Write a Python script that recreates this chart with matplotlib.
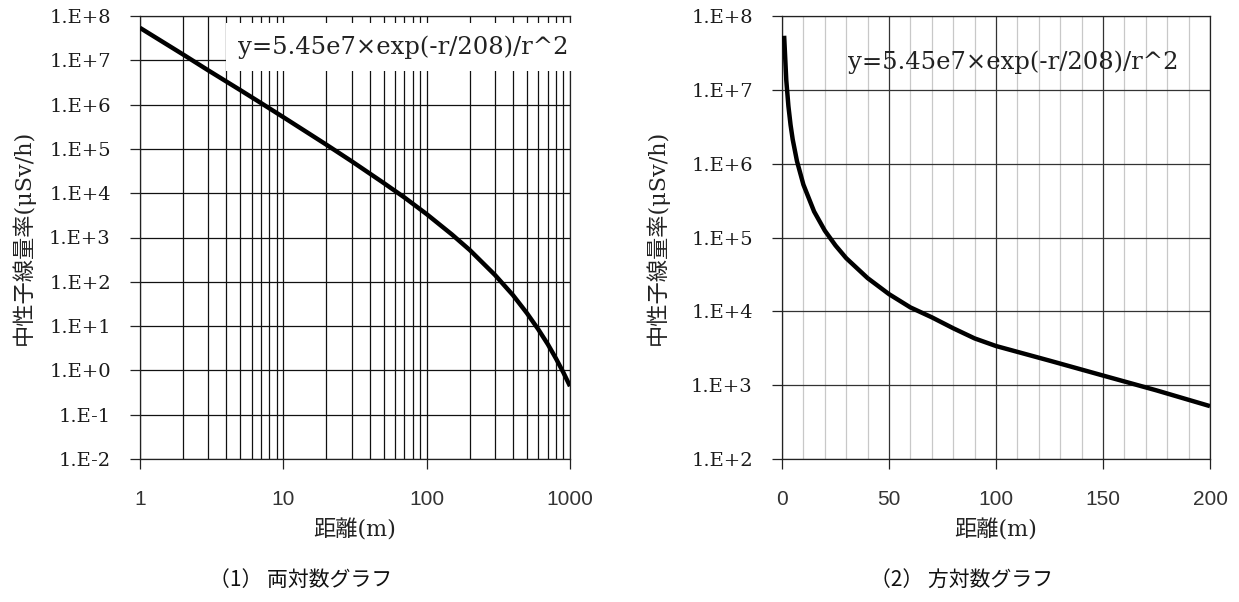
import math
import matplotlib
matplotlib.use("Agg")
import matplotlib.pyplot as plt
from matplotlib.ticker import FixedLocator, NullLocator, FuncFormatter, NullFormatter

# ---- data ----
r_loglog = [1, 2, 3, 5, 7, 10, 15, 20, 30, 50, 70, 100, 150, 200, 300, 400, 500, 600, 700, 800, 900, 1000]
dose_loglog = [5.4e7, 1.35e7, 5.9e6, 2.13e6, 1.08e6, 5.2e5, 2.25e5, 1.24e5, 5.25e4, 1.71e4, 8.0e3, 3.37e3,
               1.17e3, 520, 142, 50, 19.7, 8.5, 3.9, 1.83, 0.89, 0.44]

r_semilog = [1, 2, 3, 4, 5, 7, 10, 15, 20, 25, 30, 40, 50, 60, 70, 80, 90, 100, 125, 150, 175, 200]
dose_semilog = [5.4e7, 1.35e7, 6.0e6, 3.35e6, 2.13e6, 1.08e6, 5.2e5, 2.25e5, 1.24e5, 7.8e4, 5.25e4, 2.82e4,
                1.71e4, 1.13e4, 8.3e3, 5.9e3, 4.3e3, 3.39e3, 2.15e3, 1.35e3, 8.5e2, 5.2e2]

x_ticks_log = [1, 10, 100, 1000]
x_tick_labels_log = ["1", "10", "100", "1000"]
y_exp_left = list(range(-2, 9))
y_exp_right = list(range(2, 9))
x_ticks_lin = [0, 50, 100, 150, 200]
x_minor_lin = list(range(0, 201, 10))

equation = "y=5.45e7×exp(-r/208)/r^2"
ylabel = "中性子線量率(μSv/h)"
xlabel = "距離(m)"
sub1 = "（1） 両対数グラフ"
sub2 = "（2） 方対数グラフ"

SERIF = ["DejaVu Serif", "Noto Sans CJK JP"]
CJK = ["Noto Sans CJK JP", "DejaVu Sans"]

fig = plt.figure(figsize=(12.39, 6.02), dpi=100)
ax1 = fig.add_axes([140 / 1239, 1 - 459 / 602, 430 / 1239, 443 / 602])
ax2 = fig.add_axes([782 / 1239, 1 - 459 / 602, 428 / 1239, 443 / 602])

yfmt = FuncFormatter(lambda v, p: "1.E%+d" % round(math.log10(v)))

# ---- left: log-log ----
ax1.set_xscale("log")
ax1.set_yscale("log")
ax1.set_xlim(1, 1000)
ax1.set_ylim(1e-2, 1e8)
ax1.xaxis.set_major_locator(FixedLocator(x_ticks_log))
ax1.xaxis.set_major_formatter(FuncFormatter(
    lambda v, p: x_tick_labels_log[x_ticks_log.index(round(v))] if round(v) in x_ticks_log else ""))
minor_log = [m * 10 ** k for k in range(0, 3) for m in range(2, 10)]
ax1.xaxis.set_minor_locator(FixedLocator(minor_log))
ax1.xaxis.set_minor_formatter(NullFormatter())
ax1.yaxis.set_major_locator(FixedLocator([10.0 ** e for e in y_exp_left]))
ax1.yaxis.set_minor_locator(NullLocator())
ax1.yaxis.set_major_formatter(yfmt)
ax1.grid(which="both", axis="x", color="#111111", lw=0.9)
ax1.grid(which="major", axis="y", color="#111111", lw=0.9)
ax1.tick_params(axis="x", which="minor", length=0)
ax1.plot(r_loglog, dose_loglog, color="black", lw=3.2, zorder=5, solid_capstyle="butt")
ax1.text(0.997, 0.93, equation, transform=ax1.transAxes, ha="right", va="center",
         fontsize=17.5, family=SERIF, color="#222222", zorder=6,
         bbox=dict(boxstyle="square,pad=0.5", fc="white", ec="none"))

# ---- right: semi-log ----
ax2.set_yscale("log")
ax2.set_xlim(0, 200)
ax2.set_ylim(1e2, 1e8)
ax2.xaxis.set_major_locator(FixedLocator(x_ticks_lin))
ax2.xaxis.set_minor_locator(FixedLocator(x_minor_lin))
ax2.yaxis.set_major_locator(FixedLocator([10.0 ** e for e in y_exp_right]))
ax2.yaxis.set_minor_locator(NullLocator())
ax2.yaxis.set_major_formatter(yfmt)
ax2.grid(which="minor", axis="x", color="#c8c8c8", lw=0.9)
ax2.grid(which="major", axis="x", color="#333333", lw=0.9)
ax2.grid(which="major", axis="y", color="#333333", lw=0.9)
ax2.tick_params(axis="x", which="minor", length=0)
ax2.plot(r_semilog, dose_semilog, color="black", lw=3.2, zorder=5, solid_capstyle="butt")
ax2.text(0.154, 0.895, equation, transform=ax2.transAxes, ha="left", va="center",
         fontsize=17.5, family=SERIF, color="#222222", zorder=6)

for ax in (ax1, ax2):
    ax.set_axisbelow(True)
    for s in ax.spines.values():
        s.set_color("#222222")
        s.set_linewidth(0.9)
    ax.tick_params(axis="both", which="major", direction="out", length=7, width=0.9, color="#222222")
    ax.tick_params(axis="y", pad=14, labelsize=14, labelcolor="#1a1a1a")
    ax.tick_params(axis="x", pad=15, labelsize=15, labelcolor="#333333")
    for lab in ax.get_yticklabels():
        lab.set_family("DejaVu Serif")
    for lab in ax.get_xticklabels():
        lab.set_family("Liberation Sans")
    ax.set_xlabel(xlabel, family=SERIF, fontsize=16, color="#222222", labelpad=8)
    ax.set_ylabel(ylabel, family=SERIF, fontsize=16, color="#222222")

ax1.yaxis.set_label_coords(-0.244, 0.5)
ax2.yaxis.set_label_coords(-0.264, 0.5)

fig.text(301 / 1239, 1 - 580 / 602, sub1, ha="center", va="center", fontsize=15, family=CJK, color="#111111")
fig.text(962 / 1239, 1 - 580 / 602, sub2, ha="center", va="center", fontsize=15, family=CJK, color="#111111")

fig.savefig("out.png", dpi=100, facecolor="white")
